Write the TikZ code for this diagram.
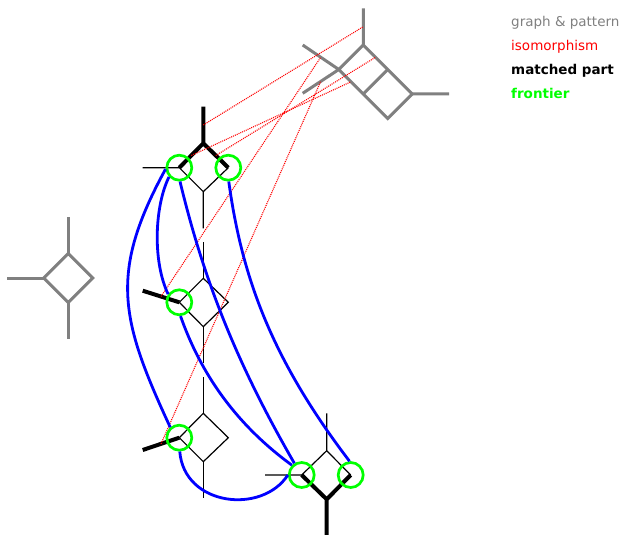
\documentclass[tikz,border=0pt]{standalone}
\usepackage{fontspec}
\setmainfont{DejaVu Sans}
\usetikzlibrary{calc}
\definecolor{lime}{RGB}{0,255,0}
\definecolor{pgray}{RGB}{128,128,128}
\begin{document}
\begin{tikzpicture}[x=1pt,y=-1pt,
  pattern edge/.style={draw=pgray,line width=3pt},
  graph edge/.style={draw=black,line width=1.2pt},
  matched edge/.style={draw=black,line width=4pt},
  iso link/.style={draw=red,line width=1.1pt,dash pattern=on 1pt off 1pt},
  frontier/.style={circle,draw=lime,line width=2.7pt,minimum size=25pt,inner sep=0pt},
  frontier link/.style={draw=blue,line width=2.8pt},
  legend/.style={anchor=base west,inner sep=0pt,font=\fontsize{13.5pt}{16pt}\selectfont},
  legend bold/.style={legend,font=\fontsize{13.5pt}{16pt}\selectfont\bfseries}]
\useasboundingbox (0,0) rectangle (622,535);

% ---- pattern on the left: square with three pendant edges
\coordinate (lpT) at (68.3,253.5);
\coordinate (lpL) at (43.8,278);
\coordinate (lpR) at (92.8,278);
\coordinate (lpB) at (68.3,302.5);
\coordinate (lpTe) at (68.3,217);
\coordinate (lpLe) at (7.3,278);
\coordinate (lpBe) at (68.3,339);
\draw[pattern edge] (lpT) -- (lpR) -- (lpB) -- (lpL) -- cycle;
\draw[pattern edge] (lpT) -- (lpTe) (lpL) -- (lpLe) (lpB) -- (lpBe);

% ---- graph at the top right: two fused squares
\coordinate (A) at (363.3,45);
\coordinate (Ae) at (363.3,8.3);
\coordinate (B) at (387.8,69.5);
\coordinate (C) at (412.3,94);
\coordinate (Ce) at (449,94);
\coordinate (D) at (387.8,118.5);
\coordinate (E) at (363.3,94);
\coordinate (F) at (338.8,69.5);
\coordinate (Fu) at (302.7,45);
\coordinate (Fd) at (302.7,93.3);
\draw[pattern edge] (A) -- (B) -- (C) -- (D) -- (E) -- (F) -- cycle;
\draw[pattern edge] (B) -- (E) (A) -- (Ae) (C) -- (Ce) (F) -- (Fu) (F) -- (Fd);

% ---- top copy
\coordinate (tT) at (203.3,143.3);
\coordinate (tLv) at (179.3,167.7);
\coordinate (tRv) at (228.3,167.7);
\coordinate (tB) at (203.3,191.7);
\coordinate (tTe) at (203.3,106.7);
\coordinate (tLe) at (142.7,167.7);
\coordinate (tBe) at (203.3,228.3);
\draw[graph edge] (tLv) -- (tB) -- (tRv) (tLv) -- (tLe) (tB) -- (tBe);
\draw[matched edge] (tLv) -- (tT) -- (tRv) (tT) -- (tTe);

% ---- middle copy
\coordinate (mT) at (203.3,278.3);
\coordinate (mLv) at (179.3,302.3);
\coordinate (mRv) at (228.3,302.3);
\coordinate (mB) at (203.3,326.7);
\coordinate (mTe) at (203.3,241.7);
\coordinate (mLe) at (142.7,290.7);
\coordinate (mBe) at (203.3,362.7);
\draw[graph edge] (mT) -- (mRv) -- (mB) -- (mLv) -- cycle;
\draw[graph edge] (mT) -- (mTe) (mB) -- (mBe);
\draw[matched edge] (mLv) -- (mLe);

% ---- lower copy
\coordinate (bT) at (203.3,413.3);
\coordinate (bLv) at (179.3,437.7);
\coordinate (bRv) at (228.3,437.7);
\coordinate (bB) at (203.3,461.7);
\coordinate (bTe) at (203.3,376.7);
\coordinate (bLe) at (142.7,450);
\coordinate (bBe) at (203.3,498.3);
\draw[graph edge] (bT) -- (bRv) -- (bB) -- (bLv) -- cycle;
\draw[graph edge] (bT) -- (bTe) (bB) -- (bBe);
\draw[matched edge] (bLv) -- (bLe);

% ---- lower right copy
\coordinate (rT) at (326.7,450.7);
\coordinate (rLv) at (301.7,475);
\coordinate (rRv) at (350.7,475);
\coordinate (rB) at (326.7,499.3);
\coordinate (rTe) at (326.7,413.3);
\coordinate (rLe) at (265,475);
\coordinate (rBe) at (326.7,536);
\draw[graph edge] (rLv) -- (rT) -- (rRv) (rT) -- (rTe) (rLv) -- (rLe);
\draw[matched edge] (rLv) -- (rB) -- (rRv) (rB) -- (rBe);

% ---- isomorphism: edge midpoints joined by dotted lines
\coordinate (i1a) at ($(tT)!.5!(tTe)$);
\coordinate (i1b) at ($(A)!.5!(Ae)$);
\coordinate (i2a) at ($(tT)!.5!(tLv)$);
\coordinate (i2b) at ($(F)!.5!(E)$);
\coordinate (i3a) at ($(tT)!.5!(tRv)$);
\coordinate (i3b) at ($(A)!.5!(B)$);
\coordinate (i4a) at ($(mLv)!.5!(mLe)$);
\coordinate (i4b) at ($(F)!.5!(Fu)$);
\coordinate (i5a) at ($(bLv)!.5!(bLe)$);
\coordinate (i5b) at ($(F)!.5!(Fd)$);
\draw[iso link] (i1a) -- (i1b);
\draw[iso link] (i2a) -- (i2b);
\draw[iso link] (i3a) -- (i3b);
\draw[iso link] (i4a) -- (i4b);
\draw[iso link] (i5a) -- (i5b);

% ---- frontier vertices
\node[frontier] (tL) at (tLv) {};
\node[frontier] (tR) at (tRv) {};
\node[frontier] (mL) at (mLv) {};
\node[frontier] (bL) at (bLv) {};
\node[frontier] (rL) at (rLv) {};
\node[frontier] (rR) at (rRv) {};

% ---- links between frontier vertices
\draw[frontier link] (tL.186) .. controls (108.6,273.4) and (120.4,319.6) .. (bL.131);
\draw[frontier link] (tL.222) .. controls (155,205) and (152,260) .. (mL.144);
\draw[frontier link] (mL.275) .. controls (201,374) and (235.6,424) .. (rL.135);
\draw[frontier link] (tL.273) .. controls (204,281) and (237,364) .. (rL.122);
\draw[frontier link] (tR.272) .. controls (242.3,281) and (274,362) .. (rR.95);
\draw[frontier link] (bL.272) .. controls (184,506) and (262,515) .. (rL.180);

% ---- legend
\node[legend,text=pgray] (lg1) at (511,26.5) {graph \& pattern};
\node[legend,text=red] (lg2) at (511,50.5) {isomorphism};
\node[legend bold,text=black] (lg3) at (511,74.5) {matched part};
\node[legend bold,text=lime] (lg4) at (511,98.5) {frontier};
\end{tikzpicture}
\end{document}
